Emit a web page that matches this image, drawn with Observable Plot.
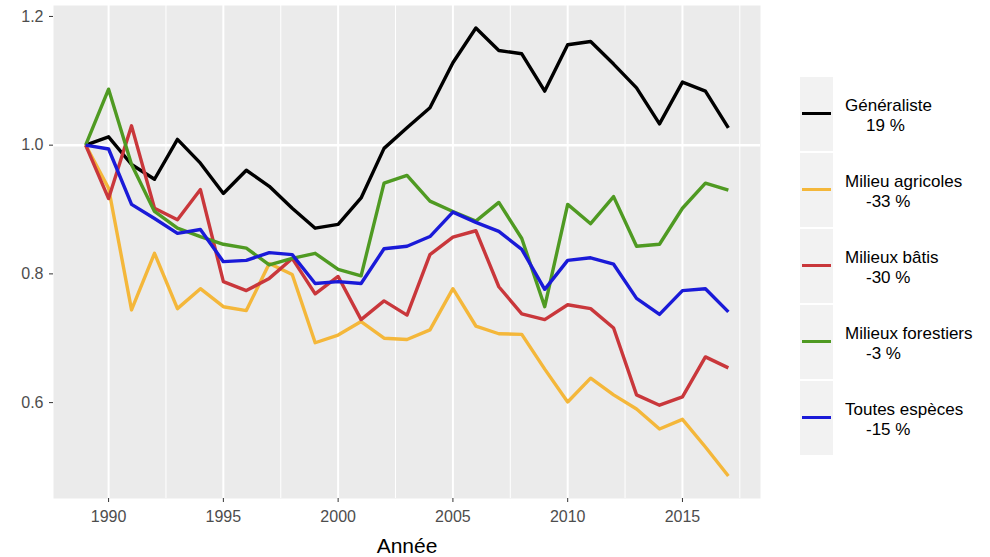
<!DOCTYPE html>
<html>
<head>
<meta charset="utf-8">
<script src="https://cdn.jsdelivr.net/npm/d3@7"></script>
<script src="https://cdn.jsdelivr.net/npm/@observablehq/plot@0.6"></script>
<style>
  body { margin: 0; background: #fff; font-family: "Liberation Sans", Arial, sans-serif; }
  #wrap { position: relative; width: 990px; height: 557px; overflow: hidden; }
  #chart { position: absolute; left: 0; top: 0; }
  #legend { position: absolute; left: 800px; top: 77px; }
  .item { position: relative; height: 76px; width: 190px; }
  .key { position: absolute; left: 0; top: 0; width: 33px; height: 74px; background: #f2f2f2; }
  .key span { position: absolute; left: 2px; top: 35px; width: 29px; height: 3px; }
  .txt { position: absolute; left: 45px; top: 19px; font-size: 17px; line-height: 20px; color: #000; white-space: nowrap; }
  .txt .pct { padding-left: 21px; }
  g[aria-label="x-axis label"] text { font-size: 21px; fill: #000; }
</style>
</head>
<body>
<div id="wrap">
  <div id="chart"></div>
  <div id="legend"></div>
</div>
<script>
const years = [1989,1990,1991,1992,1993,1994,1995,1996,1997,1998,1999,2000,2001,2002,2003,2004,2005,2006,2007,2008,2009,2010,2011,2012,2013,2014,2015,2016,2017];

const generaliste = [1.000,1.013,0.970,0.947,1.009,0.972,0.925,0.961,0.936,0.902,0.871,0.877,0.918,0.995,1.027,1.058,1.128,1.182,1.147,1.142,1.084,1.156,1.161,1.126,1.089,1.033,1.098,1.084,1.027];
const agricoles   = [1.000,0.933,0.744,0.832,0.746,0.777,0.749,0.743,0.816,0.799,0.693,0.705,0.726,0.700,0.698,0.713,0.777,0.719,0.707,0.706,0.652,0.601,0.638,0.612,0.590,0.559,0.574,0.531,0.486];
const batis       = [1.000,0.917,1.030,0.902,0.884,0.931,0.788,0.774,0.793,0.824,0.769,0.796,0.729,0.758,0.736,0.830,0.857,0.867,0.780,0.738,0.729,0.752,0.746,0.716,0.612,0.596,0.609,0.671,0.654];
const forestiers  = [1.000,1.087,0.970,0.897,0.871,0.858,0.846,0.840,0.814,0.824,0.832,0.807,0.797,0.941,0.953,0.913,0.897,0.882,0.911,0.855,0.749,0.908,0.878,0.920,0.843,0.846,0.902,0.941,0.930];
const toutes      = [1.000,0.994,0.908,0.886,0.863,0.869,0.819,0.821,0.833,0.830,0.785,0.788,0.785,0.839,0.843,0.858,0.896,0.880,0.866,0.838,0.776,0.821,0.825,0.815,0.762,0.737,0.774,0.777,0.741];

const seriesNames = ["Généraliste","Milieu agricoles","Milieux bâtis","Milieux forestiers","Toutes espèces"];
const seriesPct   = ["19 %","-33 %","-30 %","-3 %","-15 %"];
const seriesColors = ["#000000","#f4b73a","#c9373b","#4f9a22","#1a1ad8"];
const seriesValues = [generaliste, agricoles, batis, forestiers, toutes];

const xMajor = [1990,1995,2000,2005,2010,2015];
const xMinor = [1992.5,1997.5,2002.5,2007.5,2012.5,2017.5];
const yTicks = [0.6,0.8,1.0,1.2];
const yLine = [1.0];

const data = seriesNames.flatMap((name, s) =>
  years.map((year, i) => ({ year, value: seriesValues[s][i], serie: name }))
);

const chart = Plot.plot({
  width: 780,
  height: 557,
  marginLeft: 53,
  marginRight: 20,
  marginTop: 5,
  marginBottom: 59,
  style: { fontFamily: "'Liberation Sans', Arial, sans-serif", fontSize: "16px", color: "#4d4d4d", background: "#fff" },
  x: { domain: [1987.6, 2018.4] },
  y: { domain: [0.451, 1.217] },
  color: { domain: seriesNames, range: seriesColors },
  marks: [
    Plot.frame({ fill: "#ebebeb", stroke: "none" }),
    Plot.ruleX(xMinor, { stroke: "#fff", strokeWidth: 1 }),
    Plot.ruleX(xMajor, { stroke: "#fff", strokeWidth: 2 }),
    Plot.ruleY(yLine, { stroke: "#fff", strokeWidth: 2.5 }),
    Plot.lineY(data, { x: "year", y: "value", z: "serie", stroke: "serie", strokeWidth: 3.4, strokeLinejoin: "round", strokeLinecap: "butt" }),
    Plot.axisX(xMajor, { tickFormat: d => String(d), tickSize: 4, tickPadding: 8, stroke: "#333", label: "Année", labelAnchor: "center", labelArrow: "none", labelOffset: 54 }),
    Plot.axisY(yTicks, { tickFormat: d3.format(".1f"), tickSize: 4, tickPadding: 6, stroke: "#333", label: null })
  ]
});
document.getElementById("chart").appendChild(chart);

const legend = document.getElementById("legend");
seriesNames.forEach((name, i) => {
  const item = document.createElement("div");
  item.className = "item";
  item.innerHTML = `<div class="key"><span style="background:${seriesColors[i]}"></span></div>
    <div class="txt">${name}<br><span class="pct">${seriesPct[i]}</span></div>`;
  legend.appendChild(item);
});
</script>
</body>
</html>
